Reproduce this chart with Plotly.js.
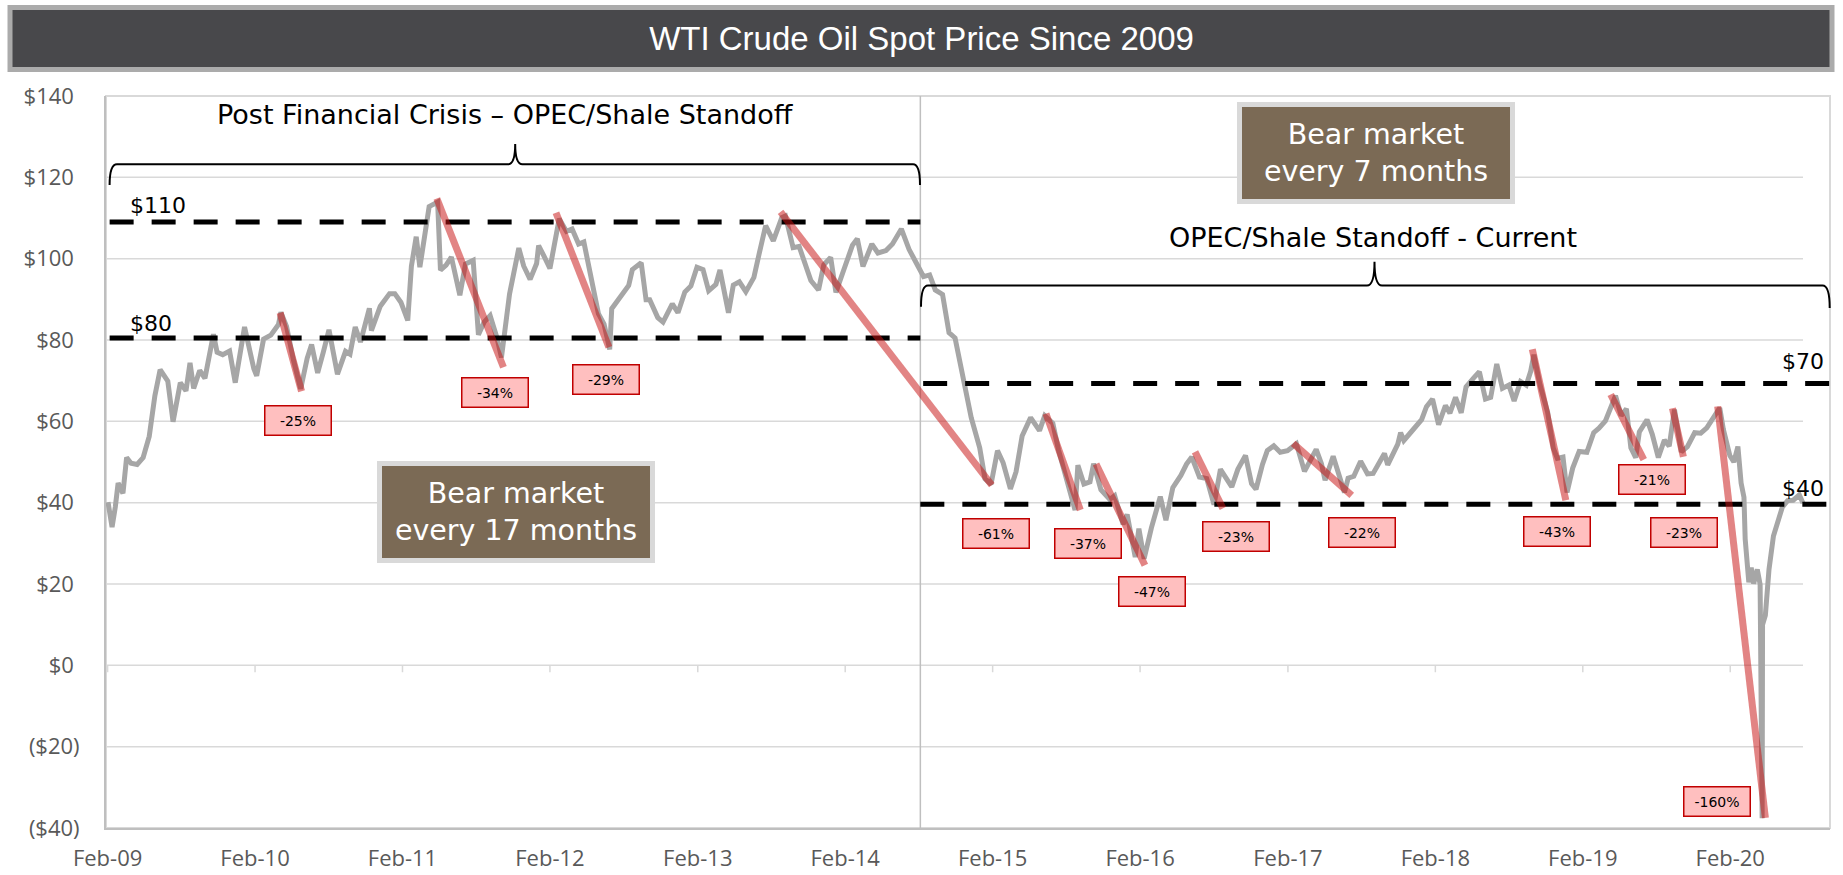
<!DOCTYPE html>
<html>
<head>
<meta charset="utf-8">
<script src="https://cdn.plot.ly/plotly-3.0.1.min.js"></script>
<style>html,body{margin:0;padding:0;background:#fff;}#chart{width:1843px;height:875px;}</style>
</head>
<body>
<div id="chart"></div>
<script>
// ---------------- DATA ----------------
const priceDates = [
'2009-02-02','2009-02-12','2009-02-20','2009-02-27','2009-03-11','2009-03-20','2009-03-31','2009-04-15','2009-04-30','2009-05-15','2009-05-29','2009-06-11','2009-06-30','2009-07-13','2009-07-31','2009-08-14','2009-08-24','2009-09-02','2009-09-17','2009-09-30','2009-10-21','2009-10-30','2009-11-13','2009-11-30','2009-12-14','2009-12-31',
'2010-01-06','2010-01-29','2010-02-05','2010-02-22','2010-03-12','2010-03-31','2010-04-06','2010-04-20','2010-05-07','2010-05-25','2010-06-10','2010-06-21','2010-07-06','2010-07-20','2010-08-03','2010-08-24','2010-09-13','2010-09-24','2010-10-07','2010-10-20','2010-11-11','2010-11-16','2010-12-08','2010-12-31',
'2011-01-13','2011-01-28','2011-02-14','2011-02-23','2011-03-07','2011-03-16','2011-04-08','2011-04-29','2011-05-06','2011-05-20','2011-06-02','2011-06-23','2011-07-07','2011-07-26','2011-08-08','2011-08-22','2011-09-06','2011-09-23','2011-10-04','2011-10-24','2011-11-16','2011-11-28','2011-12-14','2011-12-30',
'2012-01-04','2012-01-17','2012-02-01','2012-02-24','2012-03-13','2012-03-27','2012-04-12','2012-04-25','2012-05-09','2012-05-31','2012-06-14','2012-06-28','2012-07-03','2012-07-18','2012-08-14','2012-08-23','2012-09-14','2012-09-26','2012-10-05','2012-10-25','2012-11-07','2012-11-30','2012-12-14','2012-12-31',
'2013-01-15','2013-01-30','2013-02-14','2013-02-28','2013-03-18','2013-03-28','2013-04-18','2013-04-30','2013-05-15','2013-05-31','2013-06-20','2013-07-03','2013-07-19','2013-08-07','2013-08-28','2013-09-06','2013-09-25','2013-10-10','2013-10-31','2013-11-08','2013-11-27','2013-12-10','2013-12-27',
'2014-01-09','2014-01-29','2014-02-19','2014-03-03','2014-03-17','2014-04-08','2014-04-23','2014-05-13','2014-05-29','2014-06-20','2014-07-09','2014-07-31','2014-08-14','2014-08-29','2014-09-12','2014-09-30','2014-10-16','2014-10-31','2014-11-13','2014-11-28','2014-12-10','2014-12-31',
'2015-01-13','2015-01-28','2015-02-13','2015-02-27','2015-03-17','2015-03-31','2015-04-15','2015-05-06','2015-05-28','2015-06-10','2015-06-30','2015-07-14','2015-07-31','2015-08-24','2015-08-31','2015-09-15','2015-09-30','2015-10-09','2015-10-27','2015-11-18','2015-11-30','2015-12-21','2015-12-31',
'2016-01-11','2016-01-20','2016-01-29','2016-02-11','2016-02-29','2016-03-22','2016-04-05','2016-04-22','2016-05-12','2016-05-26','2016-06-08','2016-06-27','2016-07-15','2016-08-02','2016-08-18','2016-09-15','2016-09-30','2016-10-19','2016-11-03','2016-11-14','2016-11-30','2016-12-12','2016-12-28',
'2017-01-13','2017-01-31','2017-02-22','2017-03-14','2017-03-31','2017-04-12','2017-04-25','2017-05-04','2017-05-24','2017-06-21','2017-06-30','2017-07-14','2017-07-31','2017-08-17','2017-08-31','2017-09-15','2017-09-28','2017-10-06','2017-10-31','2017-11-07','2017-11-15','2017-12-04','2017-12-29',
'2018-01-10','2018-01-25','2018-02-09','2018-02-26','2018-03-09','2018-03-23','2018-04-06','2018-04-18','2018-05-07','2018-05-21','2018-06-05','2018-06-18','2018-07-03','2018-07-17','2018-08-02','2018-08-15','2018-08-31','2018-09-14','2018-09-25','2018-10-03','2018-10-18','2018-11-06','2018-11-20','2018-11-30','2018-12-14','2018-12-24',
'2019-01-07','2019-01-23','2019-02-11','2019-02-28','2019-03-13','2019-03-29','2019-04-23','2019-05-07','2019-05-20','2019-05-31','2019-06-12','2019-06-21','2019-07-10','2019-07-23','2019-08-07','2019-08-22','2019-09-03','2019-09-16','2019-10-03','2019-10-18','2019-11-05','2019-11-20','2019-12-05','2019-12-27',
'2020-01-06','2020-01-15','2020-01-31','2020-02-10','2020-02-20','2020-02-28','2020-03-06','2020-03-09','2020-03-18','2020-03-24','2020-03-30','2020-04-08','2020-04-15','2020-04-20','2020-04-21','2020-04-28','2020-05-07','2020-05-18','2020-05-29','2020-06-09','2020-06-22','2020-07-06','2020-07-21','2020-07-30'
];
const priceValues = [
40.1,34.0,38.9,44.8,42.3,51.1,49.7,49.4,51.1,56.3,66.3,72.7,69.9,59.9,69.5,67.5,74.4,68.1,72.5,70.6,81.4,77.0,76.4,77.3,69.5,79.4,
83.2,72.9,71.2,80.2,81.2,83.8,86.8,83.3,75.1,68.0,75.5,78.9,71.9,77.0,82.5,71.6,77.2,76.5,83.2,79.5,87.8,82.3,88.3,91.4,
91.4,89.3,84.8,98.1,105.4,97.9,112.8,113.9,97.2,98.4,100.4,91.0,98.7,99.6,81.3,84.4,86.0,80.5,75.7,91.3,102.6,98.2,94.9,98.8,
103.2,100.7,97.6,109.8,106.7,107.3,103.6,104.1,96.8,86.5,83.9,77.7,87.7,89.9,93.4,97.3,99.0,89.9,89.9,85.5,84.4,88.9,86.7,91.8,
93.3,97.9,97.3,92.1,93.7,97.2,86.7,93.5,94.3,91.9,95.4,101.2,108.1,104.4,110.1,110.5,102.7,103.0,96.4,94.6,92.3,98.5,100.3,
91.7,97.4,103.3,104.9,98.1,103.6,101.4,102.0,103.6,107.3,102.3,98.2,95.6,96.0,92.3,91.2,81.8,80.5,74.2,66.2,60.9,53.5,
45.9,44.5,52.8,49.8,43.4,47.6,56.4,60.9,57.7,61.4,59.5,53.0,47.1,38.2,49.2,44.6,45.1,49.6,43.2,40.8,41.7,34.7,37.1,
31.4,26.6,33.6,26.2,33.8,41.5,35.7,43.7,46.7,49.5,51.2,46.3,45.9,39.5,48.2,43.9,48.2,51.6,44.7,43.3,49.4,52.8,54.0,
52.4,52.8,54.5,47.7,50.6,53.1,49.6,45.5,51.4,42.5,46.0,46.5,50.2,47.1,47.2,49.9,52.1,49.3,54.4,57.2,55.3,57.5,60.4,
63.6,65.5,59.2,63.9,62.0,65.9,62.1,68.5,70.7,72.2,65.5,65.9,74.1,68.1,68.9,65.0,69.8,68.9,72.3,76.4,69.0,62.2,53.4,50.9,51.2,42.5,
48.5,52.6,52.4,57.2,58.3,60.1,66.3,61.4,63.1,53.5,51.1,57.4,60.4,56.8,51.1,55.4,53.9,62.9,52.5,53.8,57.2,57.1,58.4,61.7,
63.3,58.0,51.6,50.0,53.8,44.8,41.3,31.1,20.4,24.0,20.1,23.6,19.9,-37.6,10.0,12.3,23.6,31.8,35.5,38.9,40.5,40.6,41.9,39.9
];

// drawdown segments (peak -> trough)
const ddStartDate = ['2010-04-04','2011-04-27','2012-02-16','2013-08-25','2015-06-13','2015-10-15','2016-06-16','2017-02-14','2018-09-29','2019-04-11','2019-09-11','2020-01-01'];
const ddStartVal  = [86.7,114.8,111.3,111.5,61.9,49.5,52.5,54.6,77.7,66.6,63.2,63.7];
const ddEndDate   = ['2010-05-27','2011-10-09','2012-06-26','2015-01-30','2015-09-06','2016-02-13','2016-08-24','2017-07-09','2018-12-21','2019-07-02','2019-10-08','2020-04-28'];
const ddEndVal    = [67.4,73.3,78.2,44.3,38.2,24.6,38.6,41.8,40.6,50.6,51.3,-37.5];
const ddLabels    = ['-25%','-34%','-29%','-61%','-37%','-47%','-23%','-22%','-43%','-21%','-23%','-160%'];
const ddLabelDate = ['2010-05-19','2011-09-18','2012-06-19','2015-02-10','2015-09-25','2016-03-02','2016-09-26','2017-08-04','2018-11-30','2019-07-23','2019-10-10','2019-12-30'];
const ddLabelVal  = [60.3,67.1,70.4,32.5,30.0,18.2,31.8,32.6,33.0,45.6,32.7,-33.4];

// support / resistance levels
const levelValues = [109, 80.5, 69.3, 39.6];
const levelStart  = ['2009-02-06','2009-02-06','2014-08-13','2014-08-06'];
const levelEnd    = ['2014-08-06','2014-08-06','2020-10-05','2020-09-27'];
const levelLabels = ['$110','$80','$70','$40'];

// axes
const xTickDates  = ['2009-02-01','2010-02-01','2011-02-01','2012-02-01','2013-02-01','2014-02-01','2015-02-01','2016-02-01','2017-02-01','2018-02-01','2019-02-01','2020-02-01'];
const xTickLabels = ['Feb-09','Feb-10','Feb-11','Feb-12','Feb-13','Feb-14','Feb-15','Feb-16','Feb-17','Feb-18','Feb-19','Feb-20'];
const yTickValues = [-40,-20,0,20,40,60,80,100,120,140];
const yTickLabels = ['($40)','($20)','$0\u00a0','$20\u00a0','$40\u00a0','$60\u00a0','$80\u00a0','$100\u00a0','$120\u00a0','$140\u00a0'];
const dividerDate = '2014-08-06';

// ---------------- LAYOUT HELPERS ----------------
const L = 106, T = 96, W = 1724, H = 732;
const pxX = x => (x - L) / W;
const pxY = y => (T + H - y) / H;
const P = (x, y) => pxX(x).toFixed(5) + ',' + pxY(y).toFixed(5);

const traces = [];
traces.push({x: priceDates, y: priceValues, type: 'scatter', mode: 'lines',
  line: {color: '#A6A6A6', width: 5}, hoverinfo: 'skip'});

levelValues.forEach((v, i) => {
  traces.push({x: [levelStart[i], levelEnd[i]], y: [v, v], type: 'scatter', mode: 'lines',
    line: {color: '#000000', width: 5, dash: '24px,18px'}, hoverinfo: 'skip'});
});

const ddX = [], ddY = [];
ddStartDate.forEach((d, i) => { ddX.push(d, ddEndDate[i], null); ddY.push(ddStartVal[i], ddEndVal[i], null); });
traces.push({x: ddX, y: ddY, type: 'scatter', mode: 'lines', connectgaps: false,
  line: {color: 'rgba(200,20,20,0.52)', width: 7}, hoverinfo: 'skip'});

const shapes = [];
// title bar
shapes.push({type: 'rect', xref: 'paper', yref: 'paper', x0: pxX(10), x1: pxX(1832), y0: pxY(69.5), y1: pxY(7.5),
  fillcolor: '#48484B', line: {color: '#ABABAB', width: 5}, layer: 'below'});
// gridlines
yTickValues.forEach(v => {
  shapes.push({type: 'line', xref: 'paper', yref: 'y', x0: 0, x1: pxX(1803), y0: v, y1: v,
    line: {color: '#D9D9D9', width: 1.5}, layer: 'below'});
});
// plot border
shapes.push({type: 'rect', xref: 'paper', yref: 'paper', x0: 0, x1: 1, y0: 0, y1: 1,
  line: {color: '#D9D9D9', width: 2}, layer: 'below'});
// small ticks on the zero line
xTickDates.forEach(d => {
  shapes.push({type: 'line', xref: 'x', yref: 'y', x0: d, x1: d, y0: 0, y1: -1.7,
    line: {color: '#D9D9D9', width: 1.5}, layer: 'below'});
});
// divider
shapes.push({type: 'line', xref: 'x', yref: 'paper', x0: dividerDate, x1: dividerDate, y0: 0, y1: 1,
  line: {color: '#BFBFBF', width: 1.5}, layer: 'below'});
// braces
const brace1 = 'M ' + P(109.6,185) + ' Q ' + P(109.6,164.3) + ' ' + P(117,164.3) + ' L ' + P(508,164.3) +
  ' Q ' + P(515.2,164.3) + ' ' + P(515.2,144) + ' Q ' + P(515.2,164.3) + ' ' + P(522.4,164.3) +
  ' L ' + P(913,164.3) + ' Q ' + P(920,164.3) + ' ' + P(920,185);
const brace2 = 'M ' + P(921,306.7) + ' Q ' + P(921,285.5) + ' ' + P(928,285.5) + ' L ' + P(1367,285.5) +
  ' Q ' + P(1374.5,285.5) + ' ' + P(1374.5,261.7) + ' Q ' + P(1374.5,285.5) + ' ' + P(1382,285.5) +
  ' L ' + P(1822.5,285.5) + ' Q ' + P(1829.7,285.5) + ' ' + P(1829.7,308);
[brace1, brace2].forEach(p => shapes.push({type: 'path', xref: 'paper', yref: 'paper', path: p,
  line: {color: '#000000', width: 2}, fillcolor: 'rgba(0,0,0,0)', layer: 'above'}));

const annotations = [];
const txtFont = 'DejaVu Sans, Verdana, sans-serif';
const tickFont = 'Open Sans, Noto Sans, sans-serif';
annotations.push({xref: 'paper', yref: 'paper', x: pxX(505), y: pxY(115), xanchor: 'center', yanchor: 'middle',
  text: 'Post Financial Crisis \u2013 OPEC/Shale Standoff', showarrow: false, font: {family: txtFont, size: 27, color: '#000'}});
annotations.push({xref: 'paper', yref: 'paper', x: pxX(1373), y: pxY(237), xanchor: 'center', yanchor: 'middle',
  text: 'OPEC/Shale Standoff - Current', showarrow: false, font: {family: txtFont, size: 27, color: '#000'}});
// bear market boxes
[[515.5, 511.9, 'Bear market<br>every 17 months'], [1375.5, 153.5, 'Bear market<br>every 7 months']].forEach(b => {
  annotations.push({xref: 'paper', yref: 'paper', x: pxX(b[0]), y: pxY(b[1]), xanchor: 'center', yanchor: 'middle',
    text: b[2], showarrow: false, width: 268, height: 92, borderpad: 0, borderwidth: 5,
    bordercolor: '#D9D9D9', bgcolor: '#7B6A55', font: {family: txtFont, size: 28.5, color: '#FFFFFF'}});
});
// level labels
const levelLabelPos = [[128, 205, 'left'], [128, 323.3, 'left'], [1826, 362, 'right'], [1826, 488.7, 'right']];
levelLabels.forEach((t, i) => {
  const p = levelLabelPos[i];
  annotations.push({xref: 'paper', yref: 'paper', x: pxX(p[0]), y: pxY(p[1]), xanchor: p[2], yanchor: 'middle',
    text: t, showarrow: false, font: {family: txtFont, size: 22, color: '#000'}});
});
// drawdown labels
ddLabels.forEach((t, i) => {
  annotations.push({xref: 'x', yref: 'y', x: ddLabelDate[i], y: ddLabelVal[i], xanchor: 'center', yanchor: 'middle',
    text: t, showarrow: false, width: 65, height: 28, borderpad: 0, borderwidth: 1.5,
    bordercolor: '#C00000', bgcolor: '#FFBFBF', font: {family: txtFont, size: 14, color: '#000'}});
});

const layout = {
  width: 1843, height: 875,
  margin: {l: L, r: 1843 - L - W, t: T, b: 875 - T - H, pad: 0},
  paper_bgcolor: '#FFFFFF', plot_bgcolor: '#FFFFFF',
  showlegend: false,
  title: {text: 'WTI Crude Oil Spot Price Since 2009', font: {family: 'Liberation Sans, Arial, sans-serif', size: 33, color: '#FFFFFF'},
    x: 0.5, xref: 'container', xanchor: 'center', y: 1 - 38 / 875, yref: 'container', yanchor: 'middle'},
  xaxis: {type: 'date', range: ['2009-01-28', '2020-10-05'], tickmode: 'array', tickvals: xTickDates, ticktext: xTickLabels,
    tickfont: {family: tickFont, size: 22, color: '#595959'}, showgrid: false, zeroline: false,
    showline: true, linecolor: '#BFBFBF', linewidth: 2, ticks: '', ticklabelstandoff: 10, fixedrange: true},
  yaxis: {range: [-40, 140], tickmode: 'array', tickvals: yTickValues, ticktext: yTickLabels,
    tickfont: {family: tickFont, size: 22, color: '#595959'}, showgrid: false, zeroline: false,
    showline: true, linecolor: '#BFBFBF', linewidth: 2, ticks: '', ticklabelstandoff: 20, fixedrange: true},
  shapes: shapes,
  annotations: annotations
};

Plotly.newPlot('chart', traces, layout, {staticPlot: true, displayModeBar: false});
</script>
</body>
</html>
